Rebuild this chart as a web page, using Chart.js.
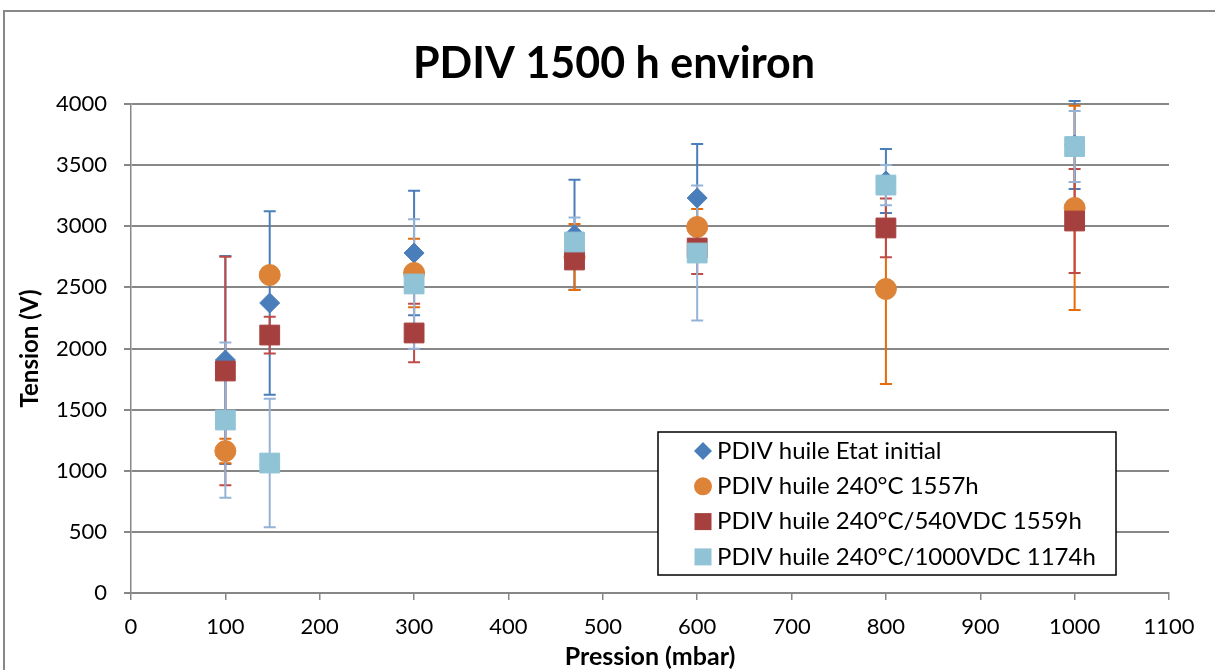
<!DOCTYPE html>
<html>
<head>
<meta charset="utf-8">
<script src="https://cdn.jsdelivr.net/npm/chart.js@4.4.0/dist/chart.umd.min.js"></script>
<style>
  body { margin: 0; background: #fff; }
  canvas { display: block; }
</style>
</head>
<body>
<canvas id="myChart" width="1215" height="670"></canvas>
<script>
// Pression (mbar) des points mesurés
var pressions = [100, 147, 300, 470, 600, 800, 1000];

// PDIV moyen (V) et écart (V) par série
var etatInitial = [1906, 2372, 2781, 2930, 3231, 3370, 3665];
var errEtatInitial = [850, 750, 510, 450, 442, 262, 360];

var huile1557h = [1161, 2601, 2618, 2748, 2994, 2487, 3150];
var errHuile1557h = [100, 60, 280, 270, 147, 777, 835];

var vdc540 = [1816, 2110, 2127, 2724, 2822, 2986, 3043];
var errVdc540 = [935, 150, 240, 60, 213, 240, 425];

var vdc1000 = [1415, 1063, 2528, 2871, 2781, 3337, 3652];
var errVdc1000 = [635, 525, 530, 200, 552, 165, 290];

var labels = [
  'PDIV huile Etat initial',
  'PDIV huile 240°C 1557h',
  'PDIV huile 240°C/540VDC 1559h',
  'PDIV huile 240°C/1000VDC 1174h'
];

var titre = 'PDIV 1500 h environ';

var fontName = 'Lato, "Open Sans", sans-serif';
var gridColor = '#878787';

function points(values) {
  return values.map(function(v, i) { return { x: pressions[i], y: v }; });
}

function serie(i, values, errs, color, errColor, style, radius) {
  return {
    label: labels[i],
    data: points(values),
    errors: errs,
    errorColor: errColor,
    backgroundColor: color,
    borderColor: color,
    borderWidth: 1,
    pointStyle: style,
    pointRadius: radius,
    pointHoverRadius: radius,
    showLine: false,
    order: 3 - i
  };
}

var datasets = [
  serie(0, etatInitial, errEtatInitial, '#4A7EBB', '#4A7EBB', 'rectRot', 10),
  serie(1, huile1557h, errHuile1557h, '#DD8338', '#E46C0A', 'circle', 10.5),
  serie(2, vdc540, errVdc540, '#A6403E', '#BE4B48', 'rect', 14),
  serie(3, vdc1000, errVdc1000, '#8FC3D5', '#95B3D7', 'rect', 14)
];

// Cadre gris + titre
var cadre = {
  id: 'cadre',
  beforeDraw: function(chart) {
    var ctx = chart.ctx;
    ctx.save();
    ctx.fillStyle = '#fff';
    ctx.fillRect(0, 0, chart.width, chart.height);
    ctx.strokeStyle = '#888';
    ctx.lineWidth = 2;
    ctx.strokeRect(4, 11, chart.width + 20, chart.height + 20);
    ctx.fillStyle = '#000';
    ctx.font = 'bold 43px ' + fontName;
    ctx.textAlign = 'center';
    ctx.textBaseline = 'alphabetic';
    ctx.fillText(titre, 614, 78);
    ctx.restore();
  }
};

// Barres d'erreur (sous les marqueurs)
var barresErreur = {
  id: 'barresErreur',
  beforeDatasetsDraw: function(chart) {
    var ctx = chart.ctx;
    var sx = chart.scales.x, sy = chart.scales.y;
    ctx.save();
    chart.data.datasets.forEach(function(ds) {
      ctx.strokeStyle = ds.errorColor;
      ctx.lineWidth = 2;
      ds.data.forEach(function(p, i) {
        var e = ds.errors[i];
        var px = sx.getPixelForValue(p.x);
        var top = sy.getPixelForValue(p.y + e);
        var bot = sy.getPixelForValue(p.y - e);
        ctx.beginPath();
        ctx.moveTo(px, top); ctx.lineTo(px, bot);
        ctx.moveTo(px - 6, top); ctx.lineTo(px + 6, top);
        ctx.moveTo(px - 6, bot); ctx.lineTo(px + 6, bot);
        ctx.stroke();
      });
    });
    ctx.restore();
  }
};

function marqueur(ctx, style, x, y, r) {
  ctx.beginPath();
  if (style === 'circle') {
    ctx.arc(x, y, r, 0, Math.PI * 2);
  } else if (style === 'rectRot') {
    ctx.moveTo(x - r, y); ctx.lineTo(x, y - r);
    ctx.lineTo(x + r, y); ctx.lineTo(x, y + r);
    ctx.closePath();
  } else {
    ctx.rect(x - r, y - r, 2 * r, 2 * r);
  }
  ctx.fill();
}

// Légende encadrée dans la zone de tracé
var legende = {
  id: 'legende',
  afterDatasetsDraw: function(chart) {
    var ctx = chart.ctx;
    var bx = 658, by = 432, bw = 458, bh = 143;
    ctx.save();
    ctx.fillStyle = '#fff';
    ctx.fillRect(bx, by, bw, bh);
    ctx.strokeStyle = '#000';
    ctx.lineWidth = 1.5;
    ctx.strokeRect(bx, by, bw, bh);
    ctx.font = '24px ' + fontName;
    ctx.textBaseline = 'middle';
    chart.data.datasets.forEach(function(ds, i) {
      var y = by + 19 + i * 35.3;
      ctx.fillStyle = ds.backgroundColor;
      marqueur(ctx, ds.pointStyle, 703, y, ds.pointStyle === 'rect' ? 8.5 : 9);
      ctx.fillStyle = '#000';
      ctx.fillText(ds.label, 717, y);
    });
    ctx.restore();
  }
};

function sansSeparateur(value) { return String(value); }

var ctx = document.getElementById('myChart');
var myChart = new Chart(ctx, {
  type: 'scatter',
  data: { datasets: datasets },
  plugins: [cadre, barresErreur, legende],
  options: {
    responsive: false,
    animation: false,
    layout: { padding: { left: 0, right: 46, top: 104, bottom: 0 } },
    plugins: {
      legend: { display: false },
      tooltip: { enabled: false },
      title: { display: false }
    },
    scales: {
      x: {
        type: 'linear',
        min: 0,
        max: 1100,
        afterFit: function(scale) { scale.height = 77; },
        ticks: {
          stepSize: 100,
          color: '#000',
          padding: 14,
          maxRotation: 0,
          callback: sansSeparateur,
          font: { family: fontName, size: 22 }
        },
        grid: { drawOnChartArea: false, drawTicks: true, tickLength: 7, color: gridColor, lineWidth: 1.5 },
        border: { color: gridColor, width: 1.5 },
        title: {
          display: true,
          text: 'Pression (mbar)',
          color: '#000',
          font: { family: fontName, size: 25, weight: 'bold' },
          padding: { top: 0, bottom: -2 }
        }
      },
      y: {
        min: 0,
        max: 4000,
        afterFit: function(scale) { scale.width = 131; },
        ticks: {
          stepSize: 500,
          color: '#000',
          padding: 17,
          callback: sansSeparateur,
          font: { family: fontName, size: 22 }
        },
        grid: { color: gridColor, lineWidth: 2, tickLength: 7 },
        border: { color: gridColor, width: 1.5 },
        title: {
          display: true,
          text: 'Tension (V)',
          color: '#000',
          font: { family: fontName, size: 24, weight: 'bold' },
          padding: { top: 15.6, bottom: 0 }
        }
      }
    }
  }
});
</script>
</body>
</html>
